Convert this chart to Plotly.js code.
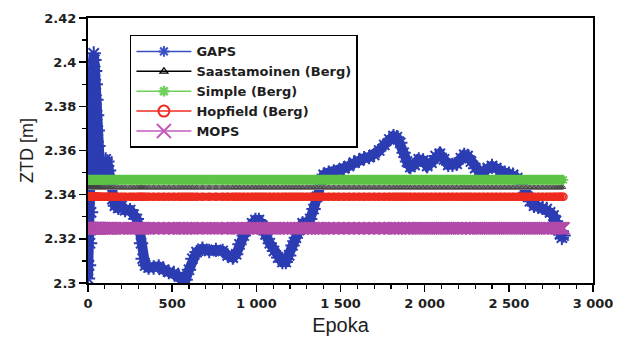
<!DOCTYPE html>
<html>
<head>
<meta charset="utf-8">
<script src="https://cdn.plot.ly/plotly-3.0.1.min.js"></script>
<style>
  html, body { margin: 0; padding: 0; background: #ffffff; }
  #chart { width: 617px; height: 337px; }
</style>
</head>
<body>
<div id="chart"></div>
<script>
// Epochs at which the GAPS zenith total delay was sampled
const epochs = [
  0, 3, 6, 9, 12, 15, 18, 21, 24, 27, 30, 34, 38, 42, 46, 50, 54, 58, 62, 66, 70,
  75, 85, 95, 105, 115, 125, 135, 145, 160, 180, 200, 220, 250, 270, 290, 305, 315, 325,
  340, 360, 390, 420, 450, 480, 510, 540, 560, 580, 600, 620, 645, 680, 720, 760, 800,
  830, 860, 880, 900, 925, 950, 975, 995, 1015, 1035, 1055, 1080, 1105, 1130, 1155,
  1175, 1195, 1215, 1235, 1255, 1275, 1300, 1320, 1340, 1360, 1380, 1400, 1430, 1460,
  1490, 1520, 1550, 1580, 1610, 1640, 1670, 1700, 1730, 1760, 1790, 1815, 1835, 1855,
  1875, 1895, 1915, 1940, 1965, 1990, 2015, 2040, 2065, 2090, 2115, 2140, 2165, 2190,
  2215, 2235, 2255, 2275, 2300, 2325, 2350, 2375, 2400, 2425, 2450, 2475, 2500, 2525,
  2550, 2575, 2600, 2625, 2650, 2675, 2700, 2725, 2745, 2765, 2780, 2795, 2805, 2815, 2825
];

// GAPS ZTD [m]
const gapsZTD = [
  2.302, 2.322, 2.308, 2.338, 2.318, 2.350, 2.332, 2.362, 2.376, 2.389, 2.398, 2.404, 2.401, 2.396, 2.390, 2.383, 2.376, 2.369, 2.362, 2.356, 2.350,
  2.346, 2.350, 2.354, 2.356, 2.355, 2.351, 2.345, 2.338, 2.335, 2.334, 2.335, 2.333, 2.333, 2.331, 2.329, 2.325, 2.318, 2.311,
  2.308, 2.307, 2.307, 2.3075, 2.306, 2.305, 2.3045, 2.303, 2.301, 2.3015, 2.306, 2.311, 2.314, 2.3155, 2.3145, 2.315, 2.3145,
  2.3125, 2.3115, 2.313, 2.3175, 2.3215, 2.3245, 2.327, 2.3285, 2.3285, 2.326, 2.322, 2.318, 2.3145, 2.3115, 2.3095,
  2.3095, 2.3125, 2.317, 2.3205, 2.324, 2.327, 2.3275, 2.329, 2.3335, 2.339, 2.345, 2.349, 2.350, 2.3505,
  2.3505, 2.352, 2.353, 2.3545, 2.3555, 2.3565, 2.357, 2.358, 2.360, 2.3625, 2.365, 2.3665, 2.366, 2.3635,
  2.359, 2.355, 2.3525, 2.3535, 2.356, 2.3555, 2.353, 2.3545, 2.3575, 2.3585, 2.356, 2.3535, 2.3535, 2.354,
  2.3565, 2.358, 2.3575, 2.355, 2.352, 2.3505, 2.3505, 2.352, 2.353, 2.352, 2.3505, 2.350, 2.3495, 2.349,
  2.3475, 2.345, 2.341, 2.337, 2.335, 2.3345, 2.334, 2.3335, 2.332, 2.3305, 2.328, 2.324, 2.322, 2.3205, 2.3215
];

// Model ZTD values [m] (constant over the session)
const saastamoinenZTD = 2.3433;
const simpleZTD = 2.3467;
const hopfieldZTD = 2.3391;
const mopsZTD = 2.3248;

const seriesNames = ['GAPS', 'Saastamoinen (Berg)', 'Simple (Berg)', 'Hopfield (Berg)', 'MOPS'];

const xTicks = [0, 500, 1000, 1500, 2000, 2500, 3000];
const yTicks = [2.3, 2.32, 2.34, 2.36, 2.38, 2.4, 2.42];

const constantSeries = v => epochs.map(() => v);

const BLUE = '#2c3db3';
const BLACK = '#000000';
const GREEN = '#5cc346';
const RED = '#ee2b1f';
const MAGENTA = '#b14aa9';

// Thick data traces (dense markers form solid bands)
const dataTraces = [
  {
    x: epochs, y: gapsZTD, mode: 'lines+markers', showlegend: false, hoverinfo: 'skip',
    line: { color: BLUE, width: 10 },
    marker: { symbol: 'asterisk-open', size: 12, line: { color: BLUE, width: 2 } }
  },
  {
    x: epochs, y: constantSeries(simpleZTD), mode: 'lines+markers', showlegend: false, hoverinfo: 'skip',
    line: { color: GREEN, width: 10 },
    marker: { symbol: 'asterisk-open', size: 8, line: { color: GREEN, width: 1.5 } }
  },
  {
    x: epochs, y: constantSeries(saastamoinenZTD), mode: 'lines+markers', showlegend: false, hoverinfo: 'skip',
    line: { color: '#7c7c7c', width: 5 },
    marker: { symbol: 'triangle-up-open', size: 4, color: '#444444', line: { color: '#444444', width: 1 } }
  },
  {
    x: epochs, y: constantSeries(hopfieldZTD), mode: 'lines+markers', showlegend: false, hoverinfo: 'skip',
    line: { color: RED, width: 8 },
    marker: { symbol: 'circle-open', size: 7, color: RED, line: { color: RED, width: 1.5 } }
  },
  {
    x: epochs, y: constantSeries(mopsZTD), mode: 'lines+markers', showlegend: false, hoverinfo: 'skip',
    line: { color: MAGENTA, width: 12 },
    marker: { symbol: 'x-thin-open', size: 12, line: { color: MAGENTA, width: 2 } }
  }
];

// Thin legend entries
const legendStyles = [
  { line: { color: '#3b4fc4', width: 1.5 }, marker: { symbol: 'asterisk-open', size: 9, line: { color: '#3b4fc4', width: 2 } } },
  { line: { color: BLACK, width: 1.5 }, marker: { symbol: 'triangle-up-open', size: 7, color: BLACK, line: { color: BLACK, width: 1.2 } } },
  { line: { color: '#6fd05c', width: 1.5 }, marker: { symbol: 'asterisk-open', size: 9, line: { color: '#6fd05c', width: 2.5 } } },
  { line: { color: RED, width: 1.5 }, marker: { symbol: 'circle-open', size: 11, color: RED, line: { color: RED, width: 2 } } },
  { line: { color: '#c35bbb', width: 1.5 }, marker: { symbol: 'x-thin-open', size: 14, line: { color: '#c35bbb', width: 2 } } }
];
const legendTraces = seriesNames.map((name, i) => ({
  x: [null], y: [null], name: name, mode: 'lines+markers', hoverinfo: 'skip',
  line: legendStyles[i].line, marker: legendStyles[i].marker
}));

const tickFont = { family: 'DejaVu Sans', size: 13, color: '#1e1e1e', weight: 'bold' };
const titleFont = { family: 'Liberation Sans, Arial, sans-serif', size: 20, color: '#1e1e1e' };

const layout = {
  width: 617, height: 337,
  margin: { l: 88, r: 24, t: 18, b: 54 },
  paper_bgcolor: '#ffffff', plot_bgcolor: '#ffffff',
  separators: '. ',
  showlegend: true,
  legend: {
    x: 0.083, y: 0.936, xanchor: 'left', yanchor: 'top',
    bgcolor: '#ffffff', bordercolor: '#000000', borderwidth: 1.5,
    itemwidth: 55, tracegroupgap: 0,
    font: { family: 'DejaVu Sans', size: 13, color: '#1e1e1e', weight: 'bold' }
  },
  xaxis: {
    range: [0, 3000], tickvals: xTicks, separatethousands: true,
    ticks: 'outside', ticklen: 7, tickwidth: 1.5, tickcolor: '#000',
    minor: { ticks: 'outside', dtick: 100, ticklen: 4, tickwidth: 1.2, tickcolor: '#000', showgrid: false },
    showline: true, linewidth: 2, linecolor: '#000', mirror: true,
    showgrid: false, zeroline: false,
    tickfont: tickFont,
    title: { text: 'Epoka', font: titleFont, standoff: 8 }
  },
  yaxis: {
    range: [2.3, 2.42], tickvals: yTicks,
    ticks: 'outside', ticklen: 7, tickwidth: 1.5, tickcolor: '#000',
    minor: { ticks: 'outside', dtick: 0.01, ticklen: 4, tickwidth: 1.2, tickcolor: '#000', showgrid: false },
    showline: true, linewidth: 2, linecolor: '#000', mirror: true,
    showgrid: false, zeroline: false,
    tickfont: tickFont,
    title: { text: 'ZTD [m]', font: { family: 'Liberation Sans, Arial, sans-serif', size: 18, color: '#1e1e1e' }, standoff: 6 }
  }
};

Plotly.newPlot('chart', dataTraces.concat(legendTraces), layout, { staticPlot: true, displayModeBar: false });
</script>
</body>
</html>
